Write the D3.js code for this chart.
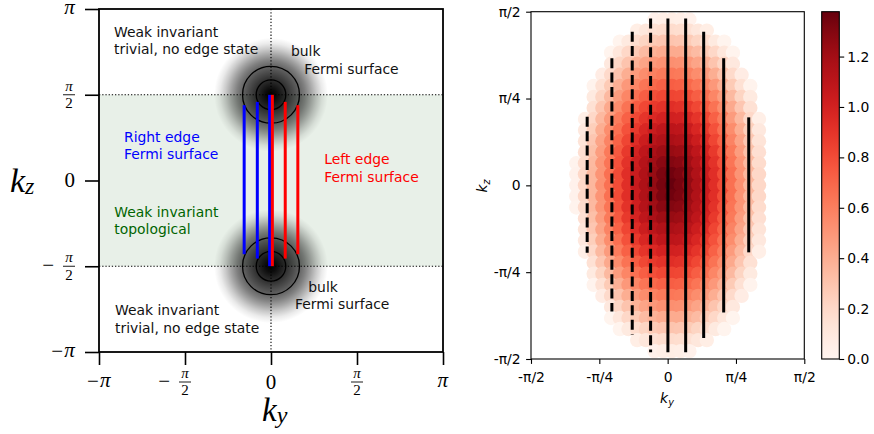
<!DOCTYPE html>
<html>
<head>
<meta charset="utf-8">
<script src="https://cdn.jsdelivr.net/npm/d3@7"></script>
<style>
  body { margin: 0; background: #fff; }
  svg { display: block; font-family: "DejaVu Sans", sans-serif; }
  .mth { font-family: "Liberation Serif", "DejaVu Serif", serif; }
  .it { font-style: italic; }
</style>
</head>
<body>
<div id="app"></div>
<script>
const PI = Math.PI;

// ---- left panel data ----
const leftTicks = [-PI, -PI / 2, 0, PI / 2, PI];
const leftTickLabels = ['−π', '−π/2', '0', 'π/2', 'π'];

// bulk Fermi pockets at (ky = 0, kz = ±π/2)
const pocketKz = [PI / 2, -PI / 2];
const pocketRings = [0.52, 0.27];
const pocketSpread = 1.04;

// edge Fermi surface lines (ky, kz top, kz bottom)
const blueKy = [-0.49, -0.25, -0.025];
const blueTop = [1.38, 1.44, 1.57];
const blueBottom = [-1.35, -1.43, -1.57];
const redKy = [0.025, 0.26, 0.49];
const redTop = [1.57, 1.44, 1.38];
const redBottom = [-1.57, -1.43, -1.35];

// ---- right panel data ----
const rightTicks = [-PI / 2, -PI / 4, 0, PI / 4, PI / 2];
const rightTickLabels = ['-π/2', '-π/4', '0', 'π/4', 'π/2'];

const kyGrid = [-1.05, -0.95, -0.85, -0.75, -0.65, -0.55, -0.45, -0.35, -0.25, -0.15, -0.05,
                0.05, 0.15, 0.25, 0.35, 0.45, 0.55, 0.65, 0.75, 0.85, 0.95, 1.05];
const kzGrid = [1.5, 1.4, 1.3, 1.2, 1.1, 1.0, 0.9, 0.8, 0.7, 0.6, 0.5, 0.4, 0.3, 0.2, 0.1, 0,
                -0.1, -0.2, -0.3, -0.4, -0.5, -0.6, -0.7, -0.8, -0.9, -1.0, -1.1, -1.2, -1.3, -1.4, -1.5];
// weight x 100, one string per kz row, '.' = no point
const weightRows = [
  ". . . . . . . . . 3 5 6 5 3 . . . . . . . .",
  ". . . . . . . 6 11 15 17 18 17 15 11 6 . . . . . .",
  ". . . . . 1 9 17 22 27 29 30 29 27 22 17 9 1 . . . .",
  ". . . . 1 11 20 27 34 38 41 41 41 38 34 27 20 11 1 . . .",
  ". . . . 10 21 30 38 44 49 52 53 52 49 44 38 30 21 10 . . .",
  ". . . 7 19 30 40 48 54 59 62 63 62 59 54 48 40 30 19 7 . .",
  ". . 2 15 27 39 49 57 64 69 72 73 72 69 64 57 49 39 27 15 2 .",
  ". . 9 22 35 47 57 66 73 79 82 83 82 79 73 66 57 47 35 22 9 .",
  ". . 15 29 42 54 65 74 82 88 91 93 91 88 82 74 65 54 42 29 15 .",
  ". 5 20 35 48 61 72 82 90 96 100 101 100 96 90 82 72 61 48 35 20 5",
  ". 10 25 40 54 66 78 88 97 104 109 110 109 104 97 88 78 66 54 40 25 10",
  ". 13 29 44 58 71 83 94 103 111 115 117 115 111 103 94 83 71 58 44 29 13",
  ". 16 32 47 62 75 88 99 109 117 122 124 122 117 109 99 88 75 62 47 32 16",
  "2 18 35 50 64 78 91 102 113 121 128 130 128 121 113 102 91 78 64 50 35 18",
  "3 20 36 51 66 80 93 104 115 124 132 135 132 124 115 104 93 80 66 51 36 20",
  "3 20 36 52 66 80 93 105 116 125 133 138 133 125 116 105 93 80 66 52 36 20",
  "3 20 36 51 66 80 93 104 115 124 132 135 132 124 115 104 93 80 66 51 36 20",
  "2 18 35 50 64 78 91 102 113 121 128 130 128 121 113 102 91 78 64 50 35 18",
  ". 16 32 47 62 75 88 99 109 117 122 124 122 117 109 99 88 75 62 47 32 16",
  ". 13 29 44 58 71 83 94 103 111 115 117 115 111 103 94 83 71 58 44 29 13",
  ". 10 25 40 54 66 78 88 97 104 109 110 109 104 97 88 78 66 54 40 25 10",
  ". 5 20 35 48 61 72 82 90 96 100 101 100 96 90 82 72 61 48 35 20 5",
  ". . 15 29 42 54 65 74 82 88 91 93 91 88 82 74 65 54 42 29 15 .",
  ". . 9 22 35 47 57 66 73 79 82 83 82 79 73 66 57 47 35 22 9 .",
  ". . 2 15 27 39 49 57 64 69 72 73 72 69 64 57 49 39 27 15 2 .",
  ". . . 7 19 30 40 48 54 59 62 63 62 59 54 48 40 30 19 7 . .",
  ". . . . 10 21 30 38 44 49 52 53 52 49 44 38 30 21 10 . . .",
  ". . . . 1 11 20 27 34 38 41 41 41 38 34 27 20 11 1 . . .",
  ". . . . . 1 9 17 22 27 29 30 29 27 22 17 9 1 . . . .",
  ". . . . . . . 6 11 15 17 18 17 15 11 6 . . . . . .",
  ". . . . . . . . . 3 5 6 5 3 . . . . . . . ."
];

// constant-ky cuts (dashed for ky < 0)
const cutKy = [-0.925, -0.641, -0.407, -0.196, 0.003, 0.207, 0.414, 0.644, 0.932];
const cutTop = [0.62, 1.15, 1.39, 1.51, 1.51, 1.51, 1.39, 1.15, 0.615];
const cutBottom = [-0.61, -1.14, -1.35, -1.51, -1.51, -1.51, -1.38, -1.15, -0.606];

const vmax = 1.378;
const cbTicks = [0, 0.2, 0.4, 0.6, 0.8, 1.0, 1.2];

// ---- layout ----
const W = 874, H = 434;
const L = {left: 99, right: 443, top: 9, bottom: 352};
const R = {left: 531, right: 804.3, top: 11.7, bottom: 359};
const CB = {left: 821.7, right: 839.3};

const svg = d3.select('#app').append('svg').attr('width', W).attr('height', H);
svg.append('rect').attr('width', W).attr('height', H).attr('fill', '#fff');
const defs = svg.append('defs');

// ================= left panel =================
const xL = d3.scaleLinear().domain([-PI, PI]).range([L.left, L.right]);
const yL = d3.scaleLinear().domain([-PI, PI]).range([L.bottom, L.top]);
const gL = svg.append('g');

gL.append('rect')
    .attr('x', xL(-PI)).attr('y', yL(PI / 2))
    .attr('width', xL(PI) - xL(-PI)).attr('height', yL(-PI / 2) - yL(PI / 2))
    .attr('fill', '#e8f0e8');

const blob = defs.append('radialGradient').attr('id', 'blob');
[[0, 1], [0.1, 0.95], [0.25, 0.83], [0.4, 0.7], [0.5, 0.61], [0.6, 0.5], [0.7, 0.36], [0.8, 0.21], [0.9, 0.08], [1, 0]]
  .forEach(([o, a]) => blob.append('stop').attr('offset', o).attr('stop-color', '#000').attr('stop-opacity', a));

gL.selectAll('.blob').data(pocketKz).enter().append('circle')
    .attr('cx', xL(0)).attr('cy', d => yL(d))
    .attr('r', xL(pocketSpread) - xL(0))
    .attr('fill', 'url(#blob)');

pocketKz.forEach(kz => {
  gL.selectAll(null).data(pocketRings).enter().append('circle')
      .attr('cx', xL(0)).attr('cy', yL(kz))
      .attr('r', d => xL(d) - xL(0))
      .attr('fill', 'none').attr('stroke', '#000').attr('stroke-width', 1.3);
});

// dotted guides
const dot = {stroke: '#000', 'stroke-width': 1.1, 'stroke-dasharray': '1.3,1.9'};
[PI / 2, -PI / 2].forEach(kz => {
  const ln = gL.append('line').attr('x1', xL(-PI)).attr('x2', xL(PI)).attr('y1', yL(kz)).attr('y2', yL(kz));
  Object.entries(dot).forEach(([k, v]) => ln.attr(k, v));
});
const vln = gL.append('line').attr('x1', xL(0)).attr('x2', xL(0)).attr('y1', yL(PI)).attr('y2', yL(-PI));
Object.entries(dot).forEach(([k, v]) => vln.attr(k, v));

function edgeLines(ky, top, bottom, col) {
  gL.selectAll(null).data(ky).enter().append('line')
      .attr('x1', d => xL(d)).attr('x2', d => xL(d))
      .attr('y1', (d, i) => yL(top[i])).attr('y2', (d, i) => yL(bottom[i]))
      .attr('stroke', col).attr('stroke-width', 3);
}
edgeLines(blueKy, blueTop, blueBottom, '#0000ff');
edgeLines(redKy, redTop, redBottom, '#ff0000');

// annotations (first-line anchor in data coords)
const notes = [
  {lines: ['Weak invariant', 'trivial, no edge state'], ky: -2.868, kz: 2.634, fill: '#111'},
  {lines: ['bulk'], ky: 0.365, kz: 2.286, fill: '#111'},
  {lines: ['Fermi surface'], ky: 0.608, kz: 1.956, fill: '#111'},
  {lines: ['Right edge', 'Fermi surface'], ky: -2.685, kz: 0.711, fill: '#0000ff'},
  {lines: ['Left edge', 'Fermi surface'], ky: 0.974, kz: 0.302, fill: '#ff0000'},
  {lines: ['Weak invariant', 'topological'], ky: -2.862, kz: -0.663, fill: '#006400'},
  {lines: ['bulk'], ky: 0.681, kz: -2.037, fill: '#111'},
  {lines: ['Fermi surface'], ky: 0.438, kz: -2.359, fill: '#111'},
  {lines: ['Weak invariant', 'trivial, no edge state'], ky: -2.849, kz: -2.463, fill: '#111'}
];
notes.forEach(n => {
  const t = gL.append('text')
      .attr('x', xL(n.ky)).attr('y', yL(n.kz))
      .attr('font-size', 13.9).attr('fill', n.fill);
  n.lines.forEach((s, i) => t.append('tspan').attr('x', xL(n.ky)).attr('dy', i ? 17.6 : 0).text(s));
});

// frame
gL.append('rect')
    .attr('x', L.left).attr('y', L.top)
    .attr('width', L.right - L.left).attr('height', L.bottom - L.top)
    .attr('fill', 'none').attr('stroke', '#000').attr('stroke-width', 1.8);

// ticks
const axL = svg.append('g').attr('transform', `translate(${L.left},0)`)
    .call(d3.axisLeft(yL).tickValues(leftTicks).tickSize(14).tickSizeOuter(0).tickFormat(''));
const axB = svg.append('g').attr('transform', `translate(0,${L.bottom})`)
    .call(d3.axisBottom(xL).tickValues(leftTicks).tickSize(13).tickSizeOuter(0).tickFormat(''));
[axL, axB].forEach(a => {
  a.select('.domain').remove();
  a.selectAll('.tick line').attr('stroke', '#000').attr('stroke-width', 1.6);
});

function mathLabel(parent, label) {
  const g = parent.append('g');
  const neg = label[0] === '−';
  const body = neg ? label.slice(1) : label;
  const frac = body.includes('/');
  const b = g.append('g');
  if (frac) {
    const [n, d] = body.split('/');
    b.append('text').attr('class', 'mth it').attr('font-size', 15).attr('text-anchor', 'middle')
        .attr('y', -4.2).text(n);
    b.append('line').attr('x1', -6).attr('x2', 6).attr('stroke', '#000').attr('stroke-width', 0.9);
    b.append('text').attr('class', 'mth').attr('font-size', 15).attr('text-anchor', 'middle')
        .attr('y', 13.3).text(d);
  } else {
    b.append('text').attr('class', body === 'π' ? 'mth it' : 'mth').attr('font-size', 21)
        .attr('text-anchor', 'middle').attr('y', body === 'π' ? 4.6 : 6.8).text(body);
  }
  const w = b.node().getBBox().width;
  if (neg) {
    g.append('text').attr('class', 'mth').attr('font-size', 21).attr('text-anchor', 'end')
        .attr('x', -w / 2 - (frac ? 9 : 1)).attr('y', 6).text('−');
  }
  return {g, w, frac};
}

leftTicks.forEach((v, i) => {
  const m = mathLabel(svg, leftTickLabels[i]);
  m.g.attr('transform', `translate(${75 - m.w / 2},${yL(v)})`);
});
leftTicks.forEach((v, i) => {
  const m = mathLabel(svg, leftTickLabels[i]);
  let cx = 0;
  if (!m.frac) { const bb = m.g.node().getBBox(); cx = bb.x + bb.width / 2; }
  m.g.attr('transform', `translate(${xL(v) - cx},382)`);
});

// axis titles
const kz = svg.append('text').attr('class', 'mth it').attr('x', 10).attr('y', 192).attr('font-size', 34);
kz.append('tspan').text('k');
kz.append('tspan').attr('font-size', 24).attr('dy', 2).text('z');
const ky = svg.append('text').attr('class', 'mth it').attr('x', 262).attr('y', 421).attr('font-size', 33);
ky.append('tspan').text('k');
ky.append('tspan').attr('font-size', 24).attr('dy', 2).text('y');

// ================= right panel =================
const xR = d3.scaleLinear().domain([-PI / 2, PI / 2]).range([R.left, R.right]);
const yR = d3.scaleLinear().domain([-PI / 2, PI / 2]).range([R.bottom, R.top]);
const color = d3.scaleSequential(d3.interpolateReds).domain([0, vmax]);

const cells = [];
weightRows.forEach((row, i) => {
  const vals = row.trim().split(/\s+/);
  if (vals.length !== kyGrid.length) console.error('row', i, vals.length);
  vals.forEach((v, j) => {
    if (v !== '.') cells.push({ky: kyGrid[j], kz: kzGrid[i], w: +v / 100});
  });
});

const gR = svg.append('g');
gR.selectAll('.cell').data(cells).enter().append('circle')
    .attr('class', 'cell')
    .attr('cx', d => xR(d.ky)).attr('cy', d => yR(d.kz))
    .attr('r', 7.2)
    .attr('fill', d => color(d.w));

gR.selectAll('.cut').data(cutKy).enter().append('line')
    .attr('class', 'cut')
    .attr('x1', d => xR(d)).attr('x2', d => xR(d))
    .attr('y1', (d, i) => yR(cutTop[i])).attr('y2', (d, i) => yR(cutBottom[i]))
    .attr('stroke', '#000').attr('stroke-width', 3)
    .attr('stroke-dasharray', d => d < 0 ? '10,4.4' : null);

gR.append('rect')
    .attr('x', R.left).attr('y', R.top)
    .attr('width', R.right - R.left).attr('height', R.bottom - R.top)
    .attr('fill', 'none').attr('stroke', '#000').attr('stroke-width', 1.1);

const axRL = svg.append('g').attr('transform', `translate(${R.left},0)`)
    .call(d3.axisLeft(yR).tickValues(rightTicks).tickSize(4.9).tickPadding(5.5).tickSizeOuter(0)
      .tickFormat((d, i) => rightTickLabels[i]));
const axRB = svg.append('g').attr('transform', `translate(0,${R.bottom})`)
    .call(d3.axisBottom(xR).tickValues(rightTicks).tickSize(4.9).tickPadding(7.8).tickSizeOuter(0)
      .tickFormat((d, i) => rightTickLabels[i]));
[axRL, axRB].forEach(a => {
  a.select('.domain').remove();
  a.selectAll('.tick line').attr('stroke', '#000').attr('stroke-width', 1.1);
  a.selectAll('.tick text').attr('fill', '#000').attr('font-size', 13.9).attr('font-family', '"DejaVu Sans", sans-serif');
});

const rky = svg.append('text').attr('class', 'it').attr('x', 667).attr('y', 403.3)
    .attr('font-size', 13.9).attr('text-anchor', 'middle');
rky.append('tspan').text('k');
rky.append('tspan').attr('font-size', 9.7).attr('dy', 2.5).text('y');
const rkz = svg.append('text').attr('class', 'it')
    .attr('transform', 'translate(487,186) rotate(-90)')
    .attr('font-size', 13.9).attr('text-anchor', 'middle');
rkz.append('tspan').text('k');
rkz.append('tspan').attr('font-size', 9.7).attr('dy', 2.5).text('z');

// ================= colorbar =================
const yC = d3.scaleLinear().domain([0, vmax]).range([R.bottom, R.top]);
const grad = defs.append('linearGradient').attr('id', 'cb')
    .attr('x1', 0).attr('x2', 0).attr('y1', 1).attr('y2', 0);
d3.range(0, 1.0001, 0.05).forEach(t =>
  grad.append('stop').attr('offset', t).attr('stop-color', color(t * vmax)));
svg.append('rect')
    .attr('x', CB.left).attr('y', yC(vmax))
    .attr('width', CB.right - CB.left).attr('height', yC(0) - yC(vmax))
    .attr('fill', 'url(#cb)').attr('stroke', '#000').attr('stroke-width', 1.1);
const axC = svg.append('g').attr('transform', `translate(${CB.right},0)`)
    .call(d3.axisRight(yC).tickValues(cbTicks).tickSize(4.9).tickPadding(3).tickSizeOuter(0)
      .tickFormat(d3.format('.1f')));
axC.select('.domain').remove();
axC.selectAll('.tick line').attr('stroke', '#000').attr('stroke-width', 1.1);
axC.selectAll('.tick text').attr('fill', '#000').attr('font-size', 13.9).attr('font-family', '"DejaVu Sans", sans-serif');
</script>
</body>
</html>
